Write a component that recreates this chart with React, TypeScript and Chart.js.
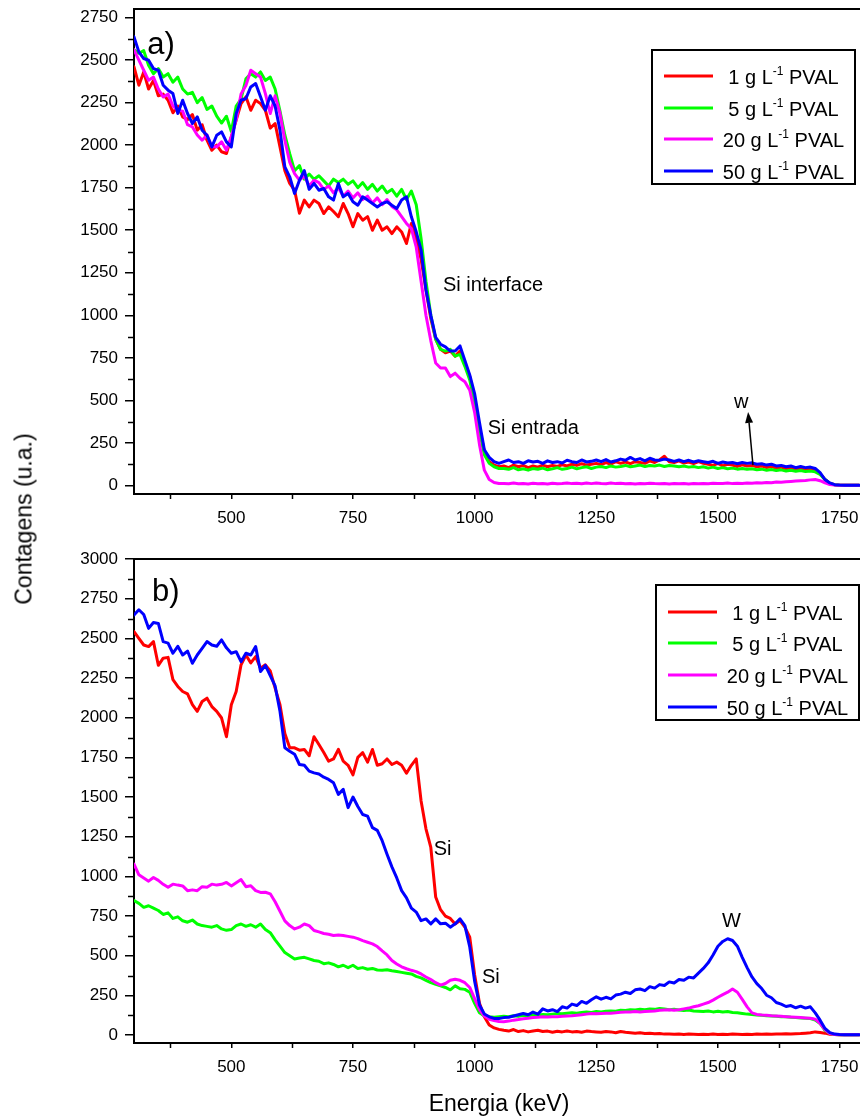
import React, { useEffect, useRef } from 'react';
import { Chart, registerables } from 'chart.js';

Chart.register(...registerables);

const FONT = '"Liberation Sans", Arial, Helvetica, sans-serif';

// Energy channels (keV)
const energies = [
  300, 310, 320, 330, 340, 350, 360, 370, 380, 390,
  400, 410, 420, 430, 440, 450, 460, 470, 480, 490,
  500, 510, 520, 530, 540, 550, 560, 570, 580, 590,
  600, 610, 620, 630, 640, 650, 660, 670, 680, 690,
  700, 710, 720, 730, 740, 750, 760, 770, 780, 790,
  800, 810, 820, 830, 840, 850, 860, 870, 880, 890,
  900, 910, 920, 930, 940, 950, 960, 970, 980, 990,
  1000, 1010, 1020, 1030, 1040, 1050, 1060, 1070, 1080, 1090,
  1100, 1110, 1120, 1130, 1140, 1150, 1160, 1170, 1180, 1190,
  1200, 1210, 1220, 1230, 1240, 1250, 1260, 1270, 1280, 1290,
  1300, 1310, 1320, 1330, 1340, 1350, 1360, 1370, 1380, 1390,
  1400, 1410, 1420, 1430, 1440, 1450, 1460, 1470, 1480, 1490,
  1500, 1510, 1520, 1530, 1540, 1550, 1560, 1570, 1580, 1590,
  1600, 1610, 1620, 1630, 1640, 1650, 1660, 1670, 1680, 1690,
  1700, 1710, 1720, 1730, 1740, 1750, 1760, 1770, 1780, 1790,
];

// Panel a)
const topRed = [
  2460, 2352, 2430, 2330, 2380, 2290, 2300, 2264, 2190, 2230,
  2166, 2150, 2180, 2088, 2120, 2029, 1970, 2000, 1961, 1951,
  2050, 2147, 2244, 2284, 2205, 2264, 2244, 2205, 2100, 2127,
  1990, 1850, 1775, 1735, 1600, 1677, 1637, 1677, 1657, 1598,
  1637, 1610, 1579, 1657, 1598, 1520, 1598, 1559, 1580, 1500,
  1559, 1500, 1520, 1480, 1520, 1490, 1422, 1540, 1441, 1330,
  1150, 980, 860, 800, 780, 790, 760, 790, 720, 640,
  500, 340, 200, 140, 120, 110, 115, 105, 120, 110,
  118, 105, 115, 108, 120, 110, 118, 112, 122, 115,
  125, 118, 128, 120, 125, 130, 122, 135, 125, 140,
  130, 138, 128, 140, 135, 130, 145, 135, 150, 172,
  140, 135, 145, 132, 138, 128, 140, 130, 125, 118,
  130, 115, 125, 120, 112, 122, 115, 118, 110, 115,
  105, 112, 100, 108, 98, 105, 95, 100, 92, 98,
  90, 70, 35, 12, 4, 2, 2, 2, 2, 2,
];
const topGreen = [
  2560, 2540, 2555, 2470, 2420, 2450, 2400, 2420, 2370, 2400,
  2330, 2300, 2310, 2250, 2280, 2210, 2230, 2170, 2130, 2170,
  2080, 2230, 2270, 2390, 2420, 2400, 2430, 2380, 2400, 2330,
  2200, 2060, 1950, 1850, 1880, 1800, 1830, 1800, 1820, 1790,
  1760, 1800, 1780, 1800, 1770, 1790, 1750, 1780, 1740, 1770,
  1730, 1760, 1720, 1740, 1700, 1740, 1680, 1730, 1650, 1450,
  1200, 1000, 860, 800, 790, 800, 760, 770, 700, 620,
  480, 320, 180, 130, 110, 100, 100, 95, 105, 92,
  98, 90, 100, 95, 102, 92, 98, 105, 95, 100,
  108, 98, 105, 110, 100, 108, 112, 105, 115, 108,
  112, 118, 110, 115, 120, 112, 118, 115, 120, 112,
  118, 115, 110, 115, 108, 112, 105, 110, 102, 108,
  100, 105, 98, 102, 96, 100, 95, 98, 92, 96,
  90, 94, 88, 92, 85, 90, 84, 88, 82, 85,
  80, 65, 35, 12, 4, 2, 2, 2, 2, 2,
];
const topMagenta = [
  2560, 2500, 2440, 2381, 2400, 2330, 2283, 2300, 2230, 2205,
  2200, 2120, 2107, 2060, 2029, 2060, 1990, 1990, 2020, 1970,
  2050, 2150, 2300, 2350, 2440, 2420, 2400, 2303, 2186, 2290,
  2186, 2029, 1900, 1833, 1794, 1820, 1760, 1794, 1780, 1740,
  1760, 1720, 1750, 1700, 1730, 1690, 1720, 1680, 1700, 1660,
  1690, 1650, 1680, 1640, 1620, 1580, 1540, 1510, 1400, 1200,
  1000, 850, 720, 690, 690, 640, 660, 630, 610, 560,
  430, 240, 90, 35, 18, 12, 12, 10, 14, 10,
  12, 9, 13, 10, 12, 9, 13, 10, 12, 15,
  11, 13, 10, 14, 11, 15, 12, 10, 14, 11,
  13, 10, 12, 9, 12, 10, 13, 11, 10, 12,
  9, 11, 10, 12, 9, 11, 10, 12, 10, 13,
  11, 12, 14, 11, 13, 12, 15, 13, 16, 14,
  18, 16, 20, 19, 22, 24, 26, 28, 30, 33,
  35, 28, 15, 6, 3, 2, 2, 2, 2, 2,
];
const topBlue = [
  2636, 2548, 2509, 2499, 2450, 2440, 2352, 2323, 2303, 2186,
  2264, 2186, 2127, 2166, 2088, 2058, 1990, 2058, 2078, 2019,
  1990, 2186, 2264, 2274, 2342, 2362, 2284, 2205, 2290, 2230,
  2088, 1872, 1814, 1716, 1794, 1850, 1740, 1775, 1735, 1745,
  1696, 1677, 1775, 1696, 1716, 1667, 1647, 1696, 1677, 1657,
  1637, 1657, 1667, 1647, 1628, 1677, 1696, 1579, 1491, 1383,
  1150, 1000, 870, 830, 815, 790, 790, 820, 735, 650,
  540, 370, 210, 165, 140, 130, 140, 150, 135, 140,
  130, 145, 138, 142, 130, 145, 135, 140, 132, 148,
  140, 135, 150, 138, 142, 150, 140, 152, 138, 145,
  155, 148, 165, 150, 158, 145, 160, 150, 148, 155,
  150, 142, 150, 140, 148, 138, 145, 140, 135, 142,
  130, 138, 132, 135, 128, 135, 130, 133, 125, 128,
  120, 125, 115, 118, 110, 115, 105, 112, 105, 108,
  100, 75, 35, 15, 5, 3, 2, 2, 2, 2,
];

// Panel b)
const botRed = [
  2542, 2500, 2458, 2448, 2479, 2330, 2375, 2380, 2240, 2197,
  2165, 2150, 2082, 2040, 2102, 2123, 2070, 2040, 1998, 1880,
  2082, 2165, 2333, 2395, 2345, 2385, 2312, 2333, 2295, 2186,
  2082, 1900, 1810, 1810, 1795, 1800, 1760, 1880, 1831, 1780,
  1726, 1740, 1800, 1726, 1700, 1640, 1750, 1780, 1720, 1800,
  1700, 1710, 1740, 1705, 1720, 1700, 1650, 1700, 1740, 1475,
  1300, 1182, 870, 790, 750, 735, 700, 722, 680, 617,
  380, 200, 115, 63, 45, 36, 30, 25, 35, 22,
  28, 20, 26, 30, 22, 25, 18, 24, 20, 26,
  20, 22, 18, 25, 22, 20, 18, 22, 20, 15,
  22, 18, 15, 12, 15, 10, 12, 8, 10, 6,
  7, 5, 6, 4, 6, 5, 4, 5, 4, 6,
  4, 5, 4, 6, 5, 4, 5, 4, 6, 5,
  6, 5, 7, 6, 8, 7, 9, 10, 12, 14,
  20, 16, 12, 5, 3, 2, 2, 2, 2, 2,
];
const botGreen = [
  847, 830, 805, 815, 800, 785, 760, 770, 735, 745,
  720, 711, 725, 700, 690, 685, 680, 690, 669, 660,
  665, 690, 700, 685, 695, 680, 700, 665, 645, 600,
  560, 520, 500, 480, 485, 490, 480, 470, 465, 450,
  455, 445, 430, 440, 425, 440, 420, 425, 415, 420,
  410, 408, 412, 405, 400, 395, 390, 385, 370, 360,
  345, 330, 320, 310, 300, 285, 310, 292, 288, 270,
  200, 140, 120, 115, 112, 115, 118, 115, 122, 118,
  125, 122, 128, 125, 130, 128, 132, 136, 134, 138,
  140, 138, 142, 145, 143, 148, 146, 150, 152, 150,
  156, 155, 160, 158, 162, 160, 165, 162, 168, 165,
  160, 162, 158, 155, 158, 152, 150, 148, 152, 146,
  150, 145, 148, 142, 140, 136, 132, 130, 126, 125,
  122, 120, 118, 116, 115, 112, 110, 108, 106, 104,
  95, 73, 30, 10, 4, 2, 2, 2, 2, 2,
];
const botMagenta = [
  1077, 1010, 990, 970, 993, 975, 950, 931, 951, 945,
  940, 910, 915, 910, 935, 931, 951, 945, 950, 962,
  940, 960, 980, 935, 941, 910, 899, 900, 890, 840,
  780, 720, 690, 669, 680, 700, 690, 659, 650, 640,
  635, 627, 630, 627, 622, 617, 608, 595, 585, 575,
  558, 530, 505, 470, 448, 430, 418, 408, 400, 385,
  366, 350, 330, 315, 325, 345, 352, 345, 330, 300,
  230, 160, 120, 100, 92, 86, 84, 88, 94, 98,
  103, 106, 110, 112, 115, 114, 116, 115, 118, 120,
  122, 125, 128, 132, 136, 134, 136, 138, 137, 140,
  144, 146, 145, 148, 146, 148, 150, 152, 156, 158,
  160, 157, 160, 165, 170, 178, 185, 195, 205, 220,
  238, 255, 270, 290, 270, 225, 178, 140, 130, 126,
  125, 122, 120, 118, 116, 114, 112, 110, 108, 106,
  100, 73, 35, 10, 4, 2, 2, 2, 2, 2,
];
const botBlue = [
  2647, 2680, 2650, 2563, 2600, 2594, 2479, 2470, 2406, 2450,
  2395, 2420, 2343, 2395, 2437, 2480, 2458, 2450, 2490, 2440,
  2406, 2416, 2353, 2406, 2395, 2448, 2291, 2330, 2265, 2200,
  2040, 1810, 1789, 1770, 1705, 1700, 1663, 1652, 1645, 1625,
  1611, 1590, 1517, 1548, 1433, 1500, 1440, 1390, 1380, 1307,
  1290, 1225, 1140, 1060, 990, 910, 865, 800, 775, 721,
  732, 701, 732, 701, 705, 680, 701, 732, 690, 555,
  340, 190, 133, 115, 105, 105, 110, 112, 120, 128,
  136, 128, 145, 132, 165, 152, 160, 148, 178, 170,
  195, 186, 212, 200, 222, 241, 226, 238, 228, 252,
  258, 270, 262, 285, 290, 280, 305, 296, 318, 312,
  335, 328, 350, 345, 365, 360, 390, 420, 455, 505,
  560, 590, 607, 596, 560, 490, 425, 366, 324, 293,
  251, 235, 205, 195, 180, 186, 172, 182, 170, 178,
  140, 94, 42, 15, 6, 3, 2, 2, 2, 2,
];

const concentrations = ['1', '5', '20', '50'];
const seriesColors = ['#ff0000', '#00ff00', '#ff00ff', '#0000ff'];
const drawOrder = [3, 2, 1, 0];

const xTicks = [500, 750, 1000, 1250, 1500, 1750];
const xMinorTicks = [375, 625, 875, 1125, 1375, 1625];
const topYTicks = [0, 250, 500, 750, 1000, 1250, 1500, 1750, 2000, 2250, 2500, 2750];
const topYMinor = [125, 375, 625, 875, 1125, 1375, 1625, 1875, 2125, 2375, 2625];
const botYTicks = [0, 250, 500, 750, 1000, 1250, 1500, 1750, 2000, 2250, 2500, 2750, 3000];
const botYMinor = [125, 375, 625, 875, 1125, 1375, 1625, 1875, 2125, 2375, 2625, 2875];

const decorPlugin = {
  id: 'decor',
  afterDraw(chart: any, _args: any, opts: any) {
    const { ctx, chartArea: a, scales } = chart;
    const xs = scales.x;
    const ys = scales.y;
    ctx.save();
    // top frame line
    ctx.strokeStyle = '#000';
    ctx.lineWidth = 2;
    ctx.beginPath();
    ctx.moveTo(a.left - 1, a.top);
    ctx.lineTo(a.right, a.top);
    ctx.stroke();
    // minor ticks
    ctx.lineWidth = 1.5;
    for (const v of opts.yMinor) {
      const y = Math.round(ys.getPixelForValue(v)) + 0.5;
      ctx.beginPath();
      ctx.moveTo(a.left - 6, y);
      ctx.lineTo(a.left, y);
      ctx.stroke();
    }
    for (const v of xMinorTicks) {
      const x = Math.round(xs.getPixelForValue(v)) + 0.5;
      if (x > a.right) continue;
      ctx.beginPath();
      ctx.moveTo(x, a.bottom);
      ctx.lineTo(x, a.bottom + 5);
      ctx.stroke();
    }
    // text annotations
    ctx.fillStyle = '#000';
    ctx.textBaseline = 'alphabetic';
    for (const t of opts.labels) {
      ctx.font = `${t.size}px ${FONT}`;
      ctx.textAlign = t.align || 'left';
      ctx.fillText(t.text, xs.getPixelForValue(t.x), ys.getPixelForValue(t.y));
    }
    // arrows
    for (const ar of opts.arrows || []) {
      const x0 = xs.getPixelForValue(ar.x0);
      const y0 = ys.getPixelForValue(ar.y0);
      const x1 = xs.getPixelForValue(ar.x1);
      const y1 = ys.getPixelForValue(ar.y1);
      const ang = Math.atan2(y1 - y0, x1 - x0);
      const L = 11;
      const W = 4;
      const bx = x1 - L * Math.cos(ang);
      const by = y1 - L * Math.sin(ang);
      ctx.strokeStyle = '#000';
      ctx.lineWidth = 1.5;
      ctx.beginPath();
      ctx.moveTo(x0, y0);
      ctx.lineTo(bx, by);
      ctx.stroke();
      ctx.beginPath();
      ctx.moveTo(x1, y1);
      ctx.lineTo(bx + W * Math.sin(ang), by - W * Math.cos(ang));
      ctx.lineTo(bx - W * Math.sin(ang), by + W * Math.cos(ang));
      ctx.closePath();
      ctx.fill();
    }
    // pixel-positioned titles
    for (const t of opts.pixelTexts || []) {
      ctx.font = `${t.size}px ${FONT}`;
      ctx.textAlign = 'center';
      ctx.fillText(t.text, t.px, t.py);
    }
    // legend
    const lg = opts.legend;
    if (lg) {
      ctx.strokeStyle = '#000';
      ctx.lineWidth = 2;
      ctx.strokeRect(lg.x, lg.y, lg.w, lg.h);
      lg.rows.forEach((ry: number, i: number) => {
        ctx.strokeStyle = seriesColors[i];
        ctx.lineWidth = 3;
        ctx.beginPath();
        ctx.moveTo(lg.x + 12, ry);
        ctx.lineTo(lg.x + 61, ry);
        ctx.stroke();
        const main1 = `${concentrations[i]} g L`;
        const sup = '-1';
        const main2 = ' PVAL';
        ctx.font = `20px ${FONT}`;
        const w1 = ctx.measureText(main1).width;
        const w3 = ctx.measureText(main2).width;
        ctx.font = `12px ${FONT}`;
        const w2 = ctx.measureText(sup).width;
        let x = lg.x + 131.5 - (w1 + w2 + w3) / 2;
        ctx.textAlign = 'left';
        ctx.fillStyle = '#000';
        ctx.font = `20px ${FONT}`;
        ctx.fillText(main1, x, ry + 8);
        x += w1;
        ctx.font = `12px ${FONT}`;
        ctx.fillText(sup, x, ry - 1);
        x += w2;
        ctx.font = `20px ${FONT}`;
        ctx.fillText(main2, x, ry + 8);
      });
    }
    ctx.restore();
  },
};

type PanelProps = {
  top: number;
  height: number;
  padTop: number;
  xAxisHeight: number;
  yMin: number;
  yMax: number;
  yTicks: number[];
  decor: any;
  series: number[][];
};

function zeroPad(s: any) {
  s.paddingLeft = 0;
  s.paddingRight = 0;
  s.paddingTop = 0;
  s.paddingBottom = 0;
}

function Panel(p: PanelProps) {
  const ref = useRef<HTMLCanvasElement | null>(null);
  useEffect(() => {
    if (!ref.current) return;
    const axisFont = { family: FONT, size: 17 };
    const chart = new Chart(ref.current, {
      type: 'line',
      data: {
        datasets: p.series.map((vals, i) => ({
          label: `${concentrations[i]} g L-1 PVAL`,
          data: energies.map((e, k) => ({ x: e, y: vals[k] })),
          borderColor: seriesColors[i],
          backgroundColor: seriesColors[i],
          borderWidth: 3,
          pointRadius: 0,
          tension: 0,
          fill: false,
          borderJoinStyle: 'round',
          borderCapStyle: 'round',
          order: drawOrder[i],
        })),
      },
      options: {
        animation: false,
        responsive: false,
        devicePixelRatio: 1,
        events: [],
        layout: { padding: { top: p.padTop, left: 0, right: 0, bottom: 0 } },
        plugins: {
          legend: { display: false },
          tooltip: { enabled: false },
          title: { display: false },
          decor: p.decor,
        },
        scales: {
          x: {
            type: 'linear',
            min: 300,
            max: 1792,
            afterBuildTicks: (s: any) => {
              s.ticks = xTicks.map((v) => ({ value: v }));
            },
            afterFit: (s: any) => {
              s.height = p.xAxisHeight;
              zeroPad(s);
            },
            grid: { drawOnChartArea: false, drawTicks: true, tickLength: 5, color: '#000', lineWidth: 1.5 },
            border: { display: true, color: '#000', width: 2 },
            ticks: {
              color: '#000',
              font: axisFont,
              padding: 9,
              maxRotation: 0,
              autoSkip: false,
              callback: (v: any) => String(v),
            },
          },
          y: {
            type: 'linear',
            min: p.yMin,
            max: p.yMax,
            afterBuildTicks: (s: any) => {
              s.ticks = p.yTicks.map((v) => ({ value: v }));
            },
            afterFit: (s: any) => {
              s.width = 134;
              zeroPad(s);
            },
            grid: { drawOnChartArea: false, drawTicks: true, tickLength: 9, color: '#000', lineWidth: 1.5 },
            border: { display: true, color: '#000', width: 2 },
            ticks: {
              color: '#000',
              font: axisFont,
              padding: 7,
              autoSkip: false,
              callback: (v: any) => String(v),
            },
          },
        },
      } as any,
      plugins: [decorPlugin as any],
    });
    return () => chart.destroy();
  }, []);
  return (
    <canvas
      ref={ref}
      width={860}
      height={p.height}
      style={{ position: 'absolute', left: 0, top: p.top, width: 860, height: p.height }}
    />
  );
}

export default function App() {
  const topDecor = {
    yMinor: topYMinor,
    labels: [
      { text: 'a)', x: 327, y: 2535, size: 31 },
      { text: 'Si interface', x: 935, y: 1143, size: 20 },
      { text: 'Si entrada', x: 1027, y: 303, size: 20 },
      { text: 'w', x: 1548, y: 455, size: 20, align: 'center' },
    ],
    arrows: [{ x0: 1572, y0: 120, x1: 1562, y1: 432 }],
    legend: { x: 652, y: 50, w: 203, h: 134, rows: [76, 108, 139, 171] },
  };
  const botDecor = {
    yMinor: botYMinor,
    labels: [
      { text: 'b)', x: 337, y: 2735, size: 31 },
      { text: 'Si', x: 916, y: 1135, size: 20 },
      { text: 'Si', x: 1015, y: 328, size: 20 },
      { text: 'W', x: 1528, y: 683, size: 20, align: 'center' },
    ],
    pixelTexts: [{ text: 'Energia (keV)', px: 499, py: 571, size: 23 }],
    legend: { x: 656, y: 45, w: 203, h: 135, rows: [72, 103, 135, 167] },
  };
  return (
    <div
      style={{
        position: 'absolute',
        left: 0,
        top: 0,
        width: 860,
        height: 1120,
        overflow: 'hidden',
        background: '#fff',
      }}
    >
      <Panel
        top={0}
        height={540}
        padTop={9}
        xAxisHeight={46}
        yMin={-50}
        yMax={2800}
        yTicks={topYTicks}
        decor={topDecor}
        series={[topRed, topGreen, topMagenta, topBlue]}
      />
      <Panel
        top={540}
        height={580}
        padTop={19}
        xAxisHeight={77}
        yMin={-50}
        yMax={3000}
        yTicks={botYTicks}
        decor={botDecor}
        series={[botRed, botGreen, botMagenta, botBlue]}
      />
      <div
        style={{
          position: 'absolute',
          left: 24,
          top: 519,
          transform: 'translate(-50%, -50%) rotate(-90deg)',
          whiteSpace: 'nowrap',
          fontFamily: FONT,
          fontSize: 23,
          color: '#000',
          lineHeight: 1,
        }}
      >
        Contagens (u.a.)
      </div>
    </div>
  );
}
